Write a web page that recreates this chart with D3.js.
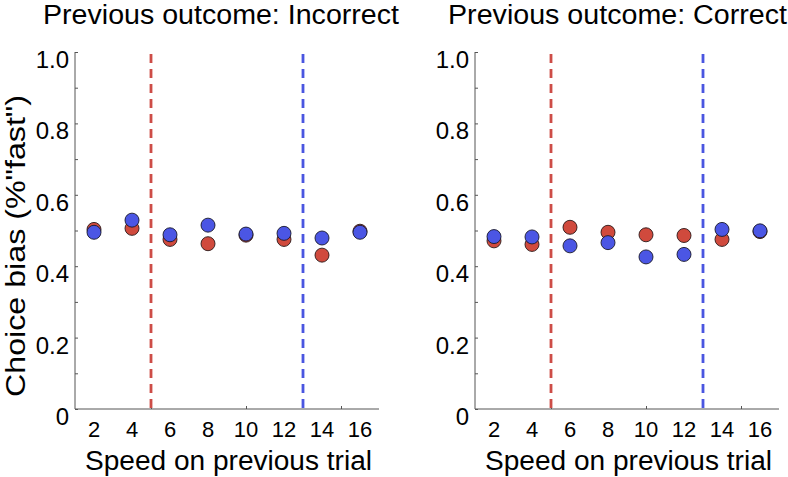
<!DOCTYPE html>
<html><head><meta charset="utf-8">
<script src="https://cdn.jsdelivr.net/npm/d3@7"></script>
<style>body{margin:0;background:#fff}svg{display:block}text{font-family:"Liberation Sans",Arial,sans-serif;fill:#000}</style>
</head><body><svg id="c" width="788" height="477"></svg>
<script>
// ---- data ----
const speeds = [2, 4, 6, 8, 10, 12, 14, 16];
const incorrectRed  = [0.503, 0.506, 0.475, 0.463, 0.487, 0.475, 0.431, 0.498];
const incorrectBlue = [0.495, 0.529, 0.488, 0.515, 0.490, 0.492, 0.479, 0.495];
const correctRed    = [0.471, 0.461, 0.509, 0.495, 0.488, 0.486, 0.475, 0.497];
const correctBlue   = [0.483, 0.482, 0.457, 0.466, 0.426, 0.433, 0.503, 0.499];
const redBoundary = 5, blueBoundary = 13;
const xTickMarks = [5, 10, 15];
const xTickLabels = [2, 4, 6, 8, 10, 12, 14, 16];
const yTickMarks = d3.range(0, 1.0001, 0.1);
const yTickLabels = [0, 0.2, 0.4, 0.6, 0.8, 1.0];
const titles = ["Previous outcome: Incorrect", "Previous outcome: Correct"];
const xLabel = "Speed on previous trial";
const yLabel = 'Choice bias (%"fast")';

const RED = "#d04a3d", BLUE = "#4b56e4";
const DRED = "#cd4d47", DBLUE = "#4a56e0";
const svg = d3.select("#c");

const panels = [
  {off: 0, title: titles[0], red: incorrectRed, blue: incorrectBlue, tw: 356},
  {off: 400, title: titles[1], red: correctRed, blue: correctBlue, tw: 339}
];

const y = d3.scaleLinear().domain([0, 1]).range([409, 52]);

panels.forEach(p => {
  const x = d3.scaleLinear().domain([1, 17]).range([75 + p.off, 379 + p.off]);
  const g = svg.append("g");

  // x axis
  const xa = g.append("g").attr("transform", `translate(0,${y(0)})`)
    .call(d3.axisBottom(x).tickValues(xTickMarks).tickSize(-3).tickFormat(""));
  xa.select(".domain").attr("stroke", "#555").attr("d", `M${x(1)},0H${x(17)}`);
  xa.selectAll(".tick line").attr("stroke", "#555");

  // y axis
  const ya = g.append("g").attr("transform", `translate(${x(1)},0)`)
    .call(d3.axisLeft(y).tickValues(yTickMarks).tickSize(-3).tickFormat(""));
  ya.select(".domain").attr("stroke", "#555").attr("d", `M0,${y(0)}V${y(1)}`);
  ya.selectAll(".tick line").attr("stroke", "#555");

  // tick labels
  g.selectAll(".xl").data(xTickLabels).join("text")
    .attr("x", d => x(d)).attr("y", 437).attr("text-anchor", "middle")
    .style("font-size", "22px").text(d => d);
  g.selectAll(".yl").data(yTickLabels).join("text")
    .attr("x", x(1) - 6).attr("y", d => y(d) + 16).attr("text-anchor", "end")
    .style("font-size", "24px").text(d => d === 0 ? "0" : d3.format(".1f")(d));

  // dashed boundaries
  [[redBoundary, DRED], [blueBoundary, DBLUE]].forEach(([v, c]) => {
    g.append("line").attr("x1", x(v)).attr("x2", x(v)).attr("y1", 54).attr("y2", y(0))
      .attr("stroke", c).attr("stroke-width", 2.8).attr("stroke-dasharray", "9,6");
  });

  // points
  g.selectAll(".r").data(speeds).join("circle")
    .attr("cx", d => x(d)).attr("cy", (d, i) => y(p.red[i])).attr("r", 7)
    .attr("fill", RED).attr("stroke", "#2a1a1a").attr("stroke-width", 0.9);
  g.selectAll(".b").data(speeds).join("circle")
    .attr("cx", d => x(d)).attr("cy", (d, i) => y(p.blue[i])).attr("r", 7)
    .attr("fill", BLUE).attr("stroke", "#1a1a2a").attr("stroke-width", 0.9);

  // title
  g.append("text").attr("x", (p.off === 0 ? 43 : 448)).attr("y", 24)
    .attr("textLength", p.tw).attr("lengthAdjust", "spacingAndGlyphs")
    .style("font-size", "27px").text(p.title);
  // x label
  g.append("text").attr("x", 85 + p.off).attr("y", 470)
    .attr("textLength", 287).attr("lengthAdjust", "spacingAndGlyphs")
    .style("font-size", "27px").text(xLabel);
});

// y label
svg.append("text").attr("transform", "translate(25,397) rotate(-90)")
  .attr("textLength", 302).attr("lengthAdjust", "spacingAndGlyphs")
  .style("font-size", "27px").text(yLabel);
</script></body></html>
